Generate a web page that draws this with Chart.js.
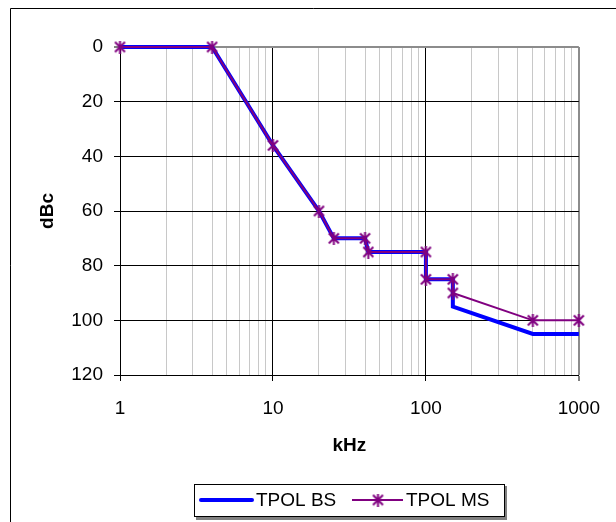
<!DOCTYPE html>
<html lang="en">
  <head>
    <meta charset="UTF-8" />
    <meta name="viewport" content="width=device-width, initial-scale=1.0" />
    <title>TPOL</title>
    <style>
      body { margin: 0; background: #fff; }
    </style>
  </head>
  <body>
    <canvas id="myChart" width="616" height="522"></canvas>

    <script src="https://cdn.jsdelivr.net/npm/chart.js@4/dist/chart.umd.min.js"></script>
    <script>
      // values
      const freqKHz = [1, 4, 10, 20, 25, 40, 42, 100, 100, 150, 150, 500, 1000];
      const tpolBS = [0, 0, 36, 60, 70, 70, 75, 75, 85, 85, 95, 105, 105];
      const tpolMS = [0, 0, 36, 60, 70, 70, 75, 75, 85, 85, 90, 100, 100];
      const decades = [1, 10, 100, 1000];
      const seriesNames = ["TPOL BS", "TPOL MS"];

      const FONT = "'Liberation Sans', Arial, sans-serif";
      const BLUE = "#0000ff";
      const PURPLE = "#800080";

      // grid positions 1..9 in each decade
      const xTickValues = [];
      decades.forEach((d, i) => {
        if (i === decades.length - 1) { xTickValues.push(d); return; }
        for (let k = 1; k < 10; k++) xTickValues.push(d * k);
      });

      function makeStar(color) {
        const c = document.createElement("canvas");
        c.width = 13; c.height = 13;
        const g = c.getContext("2d");
        g.strokeStyle = color;
        g.lineWidth = 2;
        g.beginPath();
        g.moveTo(1.5, 1.5); g.lineTo(11.5, 11.5);
        g.moveTo(11.5, 1.5); g.lineTo(1.5, 11.5);
        g.moveTo(6.5, 0); g.lineTo(6.5, 13);
        g.stroke();
        return c;
      }
      const star = makeStar(PURPLE);

      const toPoints = ys => freqKHz.map((x, i) => ({ x: x, y: ys[i] }));

      const framePlugin = {
        id: "frame",
        beforeDraw(chart) {
          const ctx = chart.ctx;
          ctx.save();
          ctx.fillStyle = "#fff";
          ctx.fillRect(0, 0, chart.width, chart.height);
          ctx.strokeStyle = "#000";
          ctx.lineWidth = 1;
          ctx.beginPath();
          ctx.moveTo(10.5, chart.height);
          ctx.lineTo(10.5, 8.5);
          ctx.lineTo(chart.width, 8.5);
          ctx.stroke();
          ctx.restore();
        }
      };

      const legendPlugin = {
        id: "boxLegend",
        afterDraw(chart) {
          const ctx = chart.ctx;
          const ds = chart.data.datasets;
          ctx.save();
          // shadow + box
          ctx.fillStyle = "#808080";
          ctx.fillRect(196, 486, 311, 34);
          ctx.fillStyle = "#fff";
          ctx.fillRect(194, 484, 311, 33);
          ctx.strokeStyle = "#000";
          ctx.lineWidth = 1;
          ctx.strokeRect(194.5, 484.5, 310, 32);

          ctx.font = "19px " + FONT;
          ctx.fillStyle = "#000";
          ctx.textBaseline = "middle";

          ctx.lineCap = "round";
          ctx.strokeStyle = ds[1].borderColor;
          ctx.lineWidth = ds[1].borderWidth;
          ctx.beginPath(); ctx.moveTo(201, 500); ctx.lineTo(252, 500); ctx.stroke();
          ctx.fillText(ds[1].label, 256, 501);

          ctx.lineCap = "butt";
          ctx.strokeStyle = ds[0].borderColor;
          ctx.lineWidth = ds[0].borderWidth;
          ctx.beginPath(); ctx.moveTo(352, 500); ctx.lineTo(403, 500); ctx.stroke();
          ctx.drawImage(star, 378 - 6.5, 500 - 6.5);
          ctx.fillText(ds[0].label, 406, 501);
          ctx.restore();
        }
      };

      const ctx = document.getElementById("myChart").getContext("2d");
      const chart = new Chart(ctx, {
        type: "scatter",
        data: {
          datasets: [
            {
              label: seriesNames[1],
              data: toPoints(tpolMS),
              showLine: true,
              borderColor: PURPLE,
              backgroundColor: PURPLE,
              borderWidth: 2,
              pointStyle: star,
              pointRadius: 6,
              pointHoverRadius: 6,
              clip: false,
              order: 0
            },
            {
              label: seriesNames[0],
              data: toPoints(tpolBS),
              showLine: true,
              borderColor: BLUE,
              backgroundColor: BLUE,
              borderWidth: 4,
              borderJoinStyle: "miter",
              pointRadius: 0,
              clip: false,
              order: 1
            }
          ]
        },
        options: {
          responsive: false,
          animation: false,
          layout: { padding: { left: 0, right: 33, top: 47, bottom: 0 } },
          plugins: { legend: { display: false }, tooltip: { enabled: false } },
          scales: {
            x: {
              type: "logarithmic",
              min: 1,
              max: 1000,
              afterBuildTicks(scale) {
                scale.ticks = xTickValues.map(v => ({ value: v, major: decades.includes(v) }));
              },
              afterFit(scale) { scale.height = 147; },
              ticks: {
                autoSkip: false,
                maxRotation: 0,
                padding: 16,
                color: "#000",
                font: { family: FONT, size: 19 },
                callback: v => (decades.includes(v) ? String(v) : "")
              },
              grid: {
                tickLength: 6,
                color: c => {
                  const v = c.tick && c.tick.value;
                  if (v === 1000) return "#8c8c8c";
                  return decades.includes(v) ? "#000" : "#c8c8c8";
                },
                lineWidth: c => (c.tick && c.tick.value === 1000 ? 2 : 1),
                tickColor: c => (c.tick && decades.includes(c.tick.value) ? "#000" : "rgba(0,0,0,0)"),
                tickWidth: 1
              },
              border: { color: "#000", width: 1 },
              title: {
                display: true,
                text: "kHz",
                color: "#000",
                font: { family: FONT, size: 19, weight: "bold" },
                padding: { top: 0, bottom: 65 }
              }
            },
            y: {
              reverse: true,
              min: 0,
              max: 120,
              afterFit(scale) { scale.width = 120; },
              ticks: {
                stepSize: 20,
                padding: 11,
                color: "#000",
                font: { family: FONT, size: 19 }
              },
              grid: {
                tickLength: 6,
                color: c => (c.tick && c.tick.value === 0 ? "#8c8c8c" : "#000"),
                lineWidth: c => (c.tick && c.tick.value === 0 ? 2 : 1),
                tickColor: "#000",
                tickWidth: 1
              },
              border: { color: "#000", width: 1 },
              title: {
                display: true,
                text: "dBc",
                color: "#000",
                font: { family: FONT, size: 19, weight: "bold" },
                padding: { top: 36, bottom: 0 }
              }
            }
          }
        },
        plugins: [framePlugin, legendPlugin]
      });
    </script>
  </body>
</html>
